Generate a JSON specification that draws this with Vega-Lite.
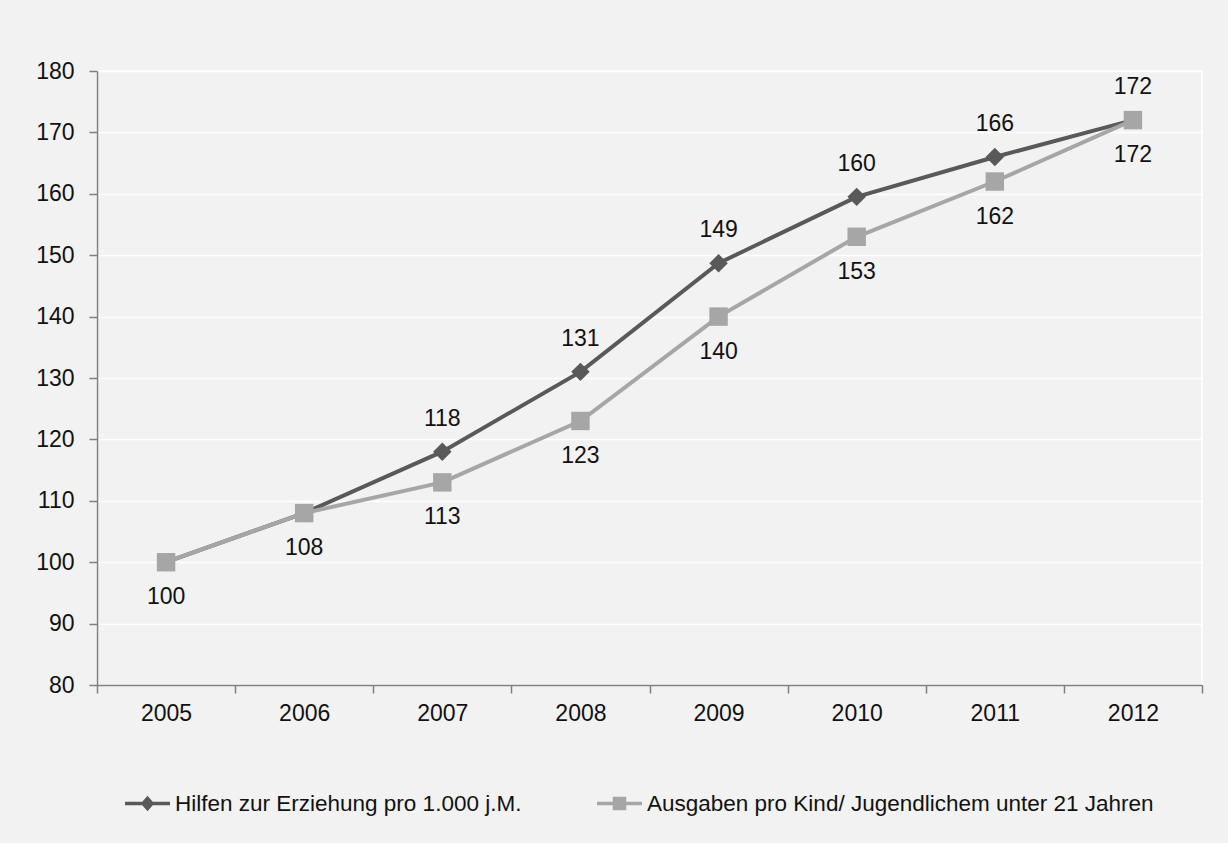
{
  "$schema": "https://vega.github.io/schema/vega-lite/v6.json",
  "width": 1105,
  "height": 614,
  "autosize": {"type": "none"},
  "padding": {"left": 97, "top": 71, "right": 26, "bottom": 158},
  "background": "#f2f2f2",
  "config": {
    "font": "Liberation Sans",
    "view": {"stroke": "#ffffff", "strokeWidth": 1.5}
  },
  "data": {
    "values": [
      {"year": "2005", "series": "Hilfen zur Erziehung pro 1.000 j.M.", "value": 100},
      {"year": "2006", "series": "Hilfen zur Erziehung pro 1.000 j.M.", "value": 108},
      {"year": "2007", "series": "Hilfen zur Erziehung pro 1.000 j.M.", "value": 118},
      {"year": "2008", "series": "Hilfen zur Erziehung pro 1.000 j.M.", "value": 131},
      {"year": "2009", "series": "Hilfen zur Erziehung pro 1.000 j.M.", "value": 148.7},
      {"year": "2010", "series": "Hilfen zur Erziehung pro 1.000 j.M.", "value": 159.5},
      {"year": "2011", "series": "Hilfen zur Erziehung pro 1.000 j.M.", "value": 166},
      {"year": "2012", "series": "Hilfen zur Erziehung pro 1.000 j.M.", "value": 172},
      {"year": "2005", "series": "Ausgaben pro Kind/ Jugendlichem unter 21 Jahren", "value": 100},
      {"year": "2006", "series": "Ausgaben pro Kind/ Jugendlichem unter 21 Jahren", "value": 108},
      {"year": "2007", "series": "Ausgaben pro Kind/ Jugendlichem unter 21 Jahren", "value": 113},
      {"year": "2008", "series": "Ausgaben pro Kind/ Jugendlichem unter 21 Jahren", "value": 123},
      {"year": "2009", "series": "Ausgaben pro Kind/ Jugendlichem unter 21 Jahren", "value": 140},
      {"year": "2010", "series": "Ausgaben pro Kind/ Jugendlichem unter 21 Jahren", "value": 153},
      {"year": "2011", "series": "Ausgaben pro Kind/ Jugendlichem unter 21 Jahren", "value": 162},
      {"year": "2012", "series": "Ausgaben pro Kind/ Jugendlichem unter 21 Jahren", "value": 172}
    ]
  },
  "encoding": {
    "x": {
      "field": "year",
      "type": "nominal",
      "bandPosition": 0.5,
      "scale": {"type": "band", "paddingInner": 0, "paddingOuter": 0},
      "axis": {
        "title": null,
        "labelAngle": 0,
        "tickBand": "extent",
        "labelFontSize": 23,
        "labelColor": "#111111",
        "labelPadding": 9,
        "tickSize": 8,
        "tickColor": "#7f7f7f",
        "tickWidth": 1.5,
        "domainColor": "#7f7f7f",
        "domainWidth": 1.5,
        "grid": false
      }
    },
    "y": {
      "field": "value",
      "type": "quantitative",
      "scale": {"domain": [80, 180], "nice": false, "zero": false},
      "axis": {
        "title": null,
        "values": [80, 90, 100, 110, 120, 130, 140, 150, 160, 170, 180],
        "labelFontSize": 23,
        "labelColor": "#111111",
        "labelPadding": 15,
        "tickSize": 8,
        "tickColor": "#7f7f7f",
        "tickWidth": 1.5,
        "domainColor": "#7f7f7f",
        "domainWidth": 1.5,
        "grid": true,
        "gridColor": "#ffffff",
        "gridWidth": 1.5
      }
    }
  },
  "layer": [
    {
      "mark": {"type": "line", "strokeWidth": 4},
      "encoding": {
        "color": {
          "field": "series",
          "type": "nominal",
          "scale": {
            "domain": ["Hilfen zur Erziehung pro 1.000 j.M.", "Ausgaben pro Kind/ Jugendlichem unter 21 Jahren"],
            "range": ["#595959", "#a6a6a6"]
          },
          "legend": {
            "title": null,
            "orient": "none",
            "legendX": 28,
            "legendY": 710,
            "direction": "horizontal",
            "labelFontSize": 22.5,
            "labelColor": "#111111",
            "labelOffset": 5,
            "labelLimit": 0,
            "columnPadding": 75,
            "symbolSize": 2025,
            "symbolType": "M-1,-0.08H1V0.08H-1Z M-0.3,-0.3H0.3V0.3H-0.3Z",
            "encode": {
              "symbols": {
                "update": {
                  "shape": {"signal": "datum.value == 'Hilfen zur Erziehung pro 1.000 j.M.' ? 'M-1,-0.08H1V0.08H-1Z M0,-0.34L0.3,0L0,0.34L-0.3,0Z' : 'M-1,-0.08H1V0.08H-1Z M-0.3,-0.3H0.3V0.3H-0.3Z'"},
                  "fill": {"signal": "datum.value == 'Hilfen zur Erziehung pro 1.000 j.M.' ? '#595959' : '#a6a6a6'"},
                  "stroke": {"value": "transparent"},
                  "strokeWidth": {"value": 0},
                  "size": {"value": 2025},
                  "opacity": {"value": 1}
                }
              }
            }
          }
        }
      }
    },
    {
      "transform": [{"filter": "datum.series == 'Hilfen zur Erziehung pro 1.000 j.M.'"}],
      "mark": {"type": "point", "filled": true, "opacity": 1, "size": 340, "shape": "diamond", "color": "#595959"}
    },
    {
      "transform": [{"filter": "datum.series == 'Ausgaben pro Kind/ Jugendlichem unter 21 Jahren'"}],
      "mark": {"type": "point", "filled": true, "opacity": 1, "size": 340, "shape": "square", "color": "#a6a6a6"}
    },
    {
      "transform": [
        {"filter": "datum.series == 'Hilfen zur Erziehung pro 1.000 j.M.' && datum.year >= '2007'"}
      ],
      "mark": {"type": "text", "fontSize": 23, "color": "#111111", "baseline": "middle", "dy": -33},
      "encoding": {"text": {"field": "value", "type": "quantitative", "format": ".0f"}}
    },
    {
      "transform": [
        {"filter": "datum.series == 'Ausgaben pro Kind/ Jugendlichem unter 21 Jahren'"}
      ],
      "mark": {"type": "text", "fontSize": 23, "color": "#111111", "baseline": "middle", "dy": 35},
      "encoding": {"text": {"field": "value", "type": "quantitative", "format": ".0f"}}
    }
  ]
}
